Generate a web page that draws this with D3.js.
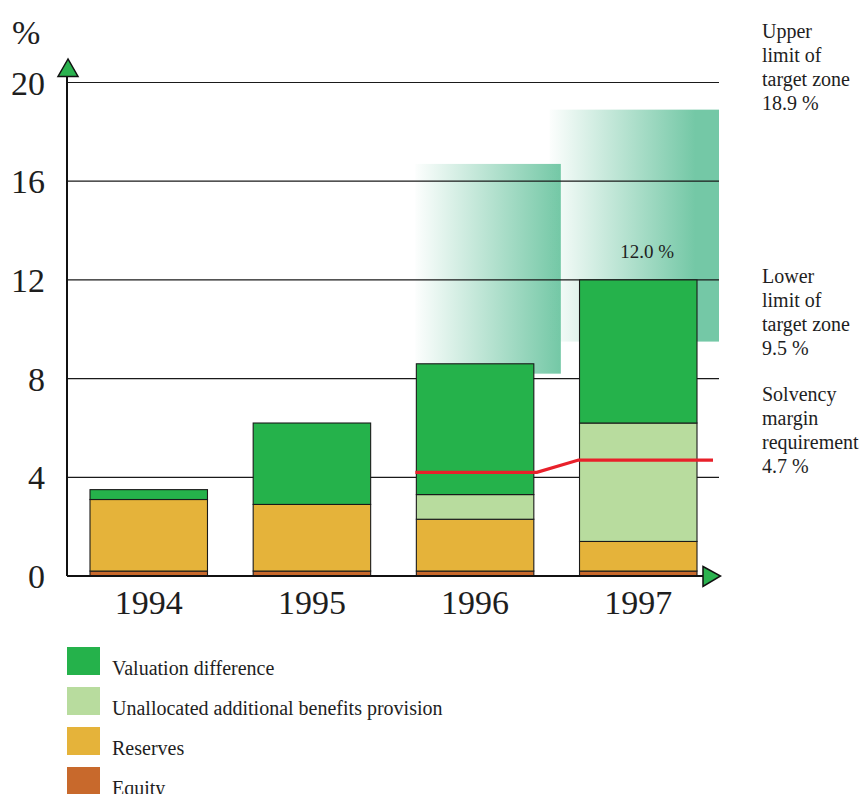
<!DOCTYPE html>
<html>
<head>
<meta charset="utf-8">
<script src="https://cdn.jsdelivr.net/npm/d3@7"></script>
<style>
  html, body { margin: 0; padding: 0; background: #fff; }
  svg { display: block; }
  text { font-family: "Liberation Serif", "Times New Roman", serif; fill: #1e1e1e; }
</style>
</head>
<body>
<svg id="chart" width="866" height="794"></svg>
<script>
// Solvency capital by component, % of technical provisions
const years = ["1994", "1995", "1996", "1997"];
const equity = [0.2, 0.2, 0.2, 0.2];
const reserves = [2.9, 2.7, 2.1, 1.2];
const unallocated = [0.0, 0.0, 1.0, 4.8];
const valuation = [0.4, 3.3, 5.3, 5.8];

// Target zone per year (lower / upper limit)
const zoneYears = ["1996", "1997"];
const zoneLower = [8.2, 9.5];
const zoneUpper = [16.7, 18.9];

// Solvency margin requirement
const solvencyYears = ["1996", "1997"];
const solvency = [4.2, 4.7];

const yTicks = [0, 4, 8, 12, 16, 20];
const totalLabel = "12.0 %";

const seriesKeys = ["equity", "reserves", "unallocated", "valuation"];
const seriesColors = {
  equity: "#c8692c",
  reserves: "#e5b33a",
  unallocated: "#b8dc9e",
  valuation: "#25b24b"
};
const legendItems = [
  { key: "valuation", label: "Valuation difference" },
  { key: "unallocated", label: "Unallocated additional benefits provision" },
  { key: "reserves", label: "Reserves" },
  { key: "equity", label: "Equity" }
];
const sideNotes = [
  { lines: ["Upper", "limit of", "target zone", "18.9 %"], top: 38 },
  { lines: ["Lower", "limit of", "target zone", "9.5 %"], top: 283 },
  { lines: ["Solvency", "margin", "requirement", "4.7 %"], top: 401 }
];

const svg = d3.select("#chart");

const axisX = 67;
const gridRight = 719;
const x = d3.scaleBand().domain(years).range([90, 697]).paddingInner(0.28).paddingOuter(0);
const y = d3.scaleLinear().domain([0, 20]).range([576, 82.5]);
const bw = x.bandwidth();

// gradient fills for the target zones
const defs = svg.append("defs");
const zoneColor = "#74c8a6";
[["zone1996", 1.0], ["zone1997", 0.86]].forEach(([id, end]) => {
  const g = defs.append("linearGradient").attr("id", id)
    .attr("x1", "0%").attr("x2", "100%").attr("y1", "0%").attr("y2", "0%");
  g.append("stop").attr("offset", "0%").attr("stop-color", zoneColor).attr("stop-opacity", 0.02);
  g.append("stop").attr("offset", (end * 100) + "%").attr("stop-color", zoneColor).attr("stop-opacity", 1);
  g.append("stop").attr("offset", "100%").attr("stop-color", zoneColor).attr("stop-opacity", 1);
});

const zones = zoneYears.map((yr, i) => ({ year: yr, lo: zoneLower[i], hi: zoneUpper[i] }));
svg.append("g").selectAll("rect").data(zones).join("rect")
  .attr("x", (d, i) => i === 0 ? x(d.year) - 1 : x(d.year) - 30)
  .attr("width", (d, i) => i === 0 ? bw + 28 : gridRight - (x(d.year) - 30))
  .attr("y", d => y(d.hi))
  .attr("height", d => y(d.lo) - y(d.hi))
  .attr("fill", (d, i) => `url(#zone${d.year})`);

// horizontal gridlines
svg.append("g").selectAll("line").data(yTicks.filter(t => t > 0)).join("line")
  .attr("x1", axisX).attr("x2", gridRight)
  .attr("y1", d => y(d)).attr("y2", d => y(d))
  .attr("stroke", "#1a1a1a").attr("stroke-width", 1.2);

// stacked bars
const table = years.map((yr, i) => ({
  year: yr, equity: equity[i], reserves: reserves[i],
  unallocated: unallocated[i], valuation: valuation[i]
}));
const stacked = d3.stack().keys(seriesKeys)(table);
svg.append("g").selectAll("g").data(stacked).join("g")
  .attr("fill", s => seriesColors[s.key])
  .selectAll("rect").data(s => s.filter(d => d[1] - d[0] > 0)).join("rect")
  .attr("x", d => x(d.data.year))
  .attr("width", bw)
  .attr("y", d => y(d[1]))
  .attr("height", d => y(d[0]) - y(d[1]))
  .attr("stroke", "#1a1a1a").attr("stroke-width", 1.1);

// axes
svg.append("line").attr("x1", axisX).attr("x2", axisX).attr("y1", 76).attr("y2", y(0))
  .attr("stroke", "#111").attr("stroke-width", 2);
svg.append("line").attr("x1", axisX).attr("x2", 703).attr("y1", y(0)).attr("y2", y(0))
  .attr("stroke", "#111").attr("stroke-width", 2);
svg.append("path")
  .attr("d", `M${axisX + 1},59 L${axisX - 9},76.5 L${axisX + 11},76.5 Z`)
  .attr("fill", "#2bb24f").attr("stroke", "#111").attr("stroke-width", 1.5).attr("stroke-linejoin", "miter");
svg.append("path")
  .attr("d", `M703,566.5 L720.5,${y(0)} L703,586.5 Z`)
  .attr("fill", "#2bb24f").attr("stroke", "#111").attr("stroke-width", 1.5);

// solvency requirement line
const sol = solvencyYears.map((yr, i) => ({ year: yr, v: solvency[i] }));
const solPts = [
  [x(sol[0].year) - 1, y(sol[0].v)],
  [x(sol[0].year) + bw + 3, y(sol[0].v)],
  [x(sol[1].year) - 1, y(sol[1].v)],
  [713, y(sol[1].v)]
];
svg.append("path").attr("d", d3.line()(solPts))
  .attr("fill", "none").attr("stroke", "#e8202a").attr("stroke-width", 3.2);

// y tick labels and unit
svg.append("g").selectAll("text").data(yTicks).join("text")
  .attr("x", 45).attr("y", d => y(d) + 12)
  .attr("text-anchor", "end").attr("font-size", 34)
  .text(d => d);
svg.append("text").attr("x", 12).attr("y", 44).attr("font-size", 34).text("%");

// year labels
svg.append("g").selectAll("text").data(years).join("text")
  .attr("x", d => x(d) + bw / 2).attr("y", 614)
  .attr("text-anchor", "middle").attr("font-size", 34)
  .text(d => d);

// total label above last bar
const lastIdx = years.length - 1;
const lastTotal = equity[lastIdx] + reserves[lastIdx] + unallocated[lastIdx] + valuation[lastIdx];
svg.append("text")
  .attr("x", x(years[lastIdx]) + bw / 2 + 9).attr("y", y(lastTotal) - 22)
  .attr("text-anchor", "middle").attr("font-size", 19)
  .text(totalLabel);

// side notes
sideNotes.forEach(n => {
  const t = svg.append("text").attr("x", 762).attr("y", n.top).attr("font-size", 20);
  n.lines.forEach((ln, i) => {
    t.append("tspan").attr("x", 762).attr("y", n.top + i * 24).text(ln);
  });
});

// legend
const lg = svg.append("g").selectAll("g").data(legendItems).join("g")
  .attr("transform", (d, i) => `translate(67, ${647 + i * 40})`);
lg.append("rect").attr("width", 33).attr("height", 28).attr("fill", d => seriesColors[d.key]);
lg.append("text").attr("x", 45).attr("y", 28).attr("font-size", 20).text(d => d.label);
</script>
</body>
</html>
